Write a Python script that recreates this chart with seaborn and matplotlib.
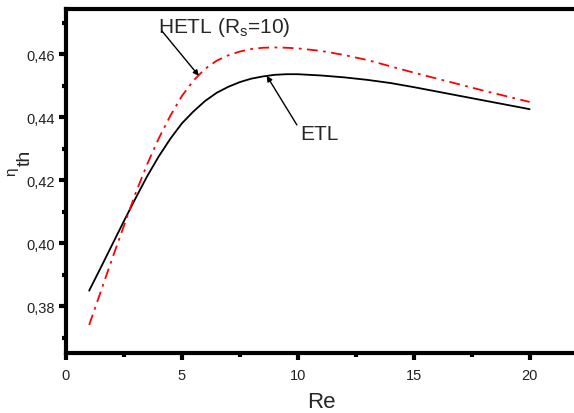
import numpy as np
import pandas as pd
import matplotlib
matplotlib.use("Agg")
import matplotlib.pyplot as plt
import seaborn as sns

re_vals = [1, 1.5, 2, 2.5, 3, 3.5, 4, 4.5, 5, 5.5, 6, 6.5, 7, 7.5, 8, 8.5, 9, 9.5,
           10, 11, 12, 13, 14, 15, 16, 17, 18, 19, 20]
etl = [0.3849, 0.3922, 0.3996, 0.4070, 0.4142, 0.4212, 0.4275, 0.4331, 0.4380,
       0.4418, 0.4451, 0.4477, 0.4496, 0.4511, 0.4522, 0.4529, 0.4534, 0.4536,
       0.4536, 0.4532, 0.4526, 0.4518, 0.4508, 0.4495, 0.4481, 0.4467, 0.4453,
       0.4439, 0.4425]
hetl = [0.3740, 0.3846, 0.3952, 0.4055, 0.4158, 0.4250, 0.4332, 0.4404, 0.4467,
        0.4516, 0.4553, 0.4579, 0.4596, 0.4608, 0.4616, 0.4620, 0.4621, 0.4620,
        0.4618, 0.4610, 0.4597, 0.4581, 0.4561, 0.4541, 0.4522, 0.4503, 0.4484,
        0.4466, 0.4448]
xticks = [0, 5, 10, 15, 20]
xticklabels = ["0", "5", "10", "15", "20"]
yticks = [0.38, 0.40, 0.42, 0.44, 0.46]
yticklabels = ["0,38", "0,40", "0,42", "0,44", "0,46"]

sns.set_style("ticks")
plt.rcParams["font.family"] = ["Liberation Sans", "DejaVu Sans"]
plt.rcParams["mathtext.fontset"] = "custom"
plt.rcParams["mathtext.rm"] = "Liberation Sans"
plt.rcParams["mathtext.it"] = "Liberation Sans"

df = pd.DataFrame({"Re": re_vals * 2, "eta": etl + hetl,
                   "model": ["ETL"] * len(re_vals) + ["HETL"] * len(re_vals)})

fig = plt.figure(figsize=(5.74, 4.14), dpi=100)
ax = fig.add_axes([66 / 574, 60 / 414, 510 / 574, 344 / 414])

sns.lineplot(data=df[df.model == "ETL"], x="Re", y="eta", ax=ax, color="black",
             linewidth=1.3, legend=False)
sns.lineplot(data=df[df.model == "HETL"], x="Re", y="eta", ax=ax, color="#ff0000",
             linewidth=1.3, legend=False)
ax.lines[1].set_linestyle((0, (6, 3, 1.5, 3)))

ax.set_xlim(0, 22)
ax.set_ylim(0.3651, 0.4743)
ax.set_xticks(xticks)
ax.set_xticklabels(xticklabels)
ax.set_xticks([2.5, 7.5, 12.5, 17.5], minor=True)
ax.set_yticks(yticks)
ax.set_yticklabels(yticklabels)
ax.set_yticks([0.37, 0.39, 0.41, 0.43, 0.45, 0.47], minor=True)

for s in ax.spines.values():
    s.set_linewidth(3)
    s.set_color("black")
ax.tick_params(which="major", direction="out", length=5, width=3, labelsize=10.5,
               colors="black", labelcolor="#222222")
ax.tick_params(axis="y", which="major", pad=3)
ax.tick_params(axis="x", which="major", pad=6)
ax.tick_params(which="minor", direction="out", length=3, width=3, colors="black")

ax.set_xlabel("Re", fontsize=16, labelpad=6)
ax.set_ylabel("")
fig.text(11.5 / 574, 1 - 172 / 414, "η", rotation=90, fontsize=11,
         ha="center", va="center")
fig.text(25.5 / 574, 1 - 158 / 414, "th", rotation=90, fontsize=14,
         ha="center", va="center")

ax.text(3.97, 0.46698, "HETL (R$_{\\rm s}$=10)", fontsize=15, ha="left",
        va="baseline")
ax.annotate("", xy=(5.73, 0.4531), xytext=(4.14, 0.4673),
            arrowprops=dict(arrowstyle="-|>", color="black", lw=1,
                            shrinkA=0, shrinkB=0, mutation_scale=8))
ax.text(10.09, 0.43302, "ETL", fontsize=15, ha="left", va="baseline")
ax.annotate("", xy=(8.66, 0.4531), xytext=(9.96, 0.4375),
            arrowprops=dict(arrowstyle="-|>", color="black", lw=1,
                            shrinkA=0, shrinkB=0, mutation_scale=8))

fig.savefig("out.png", dpi=100)
